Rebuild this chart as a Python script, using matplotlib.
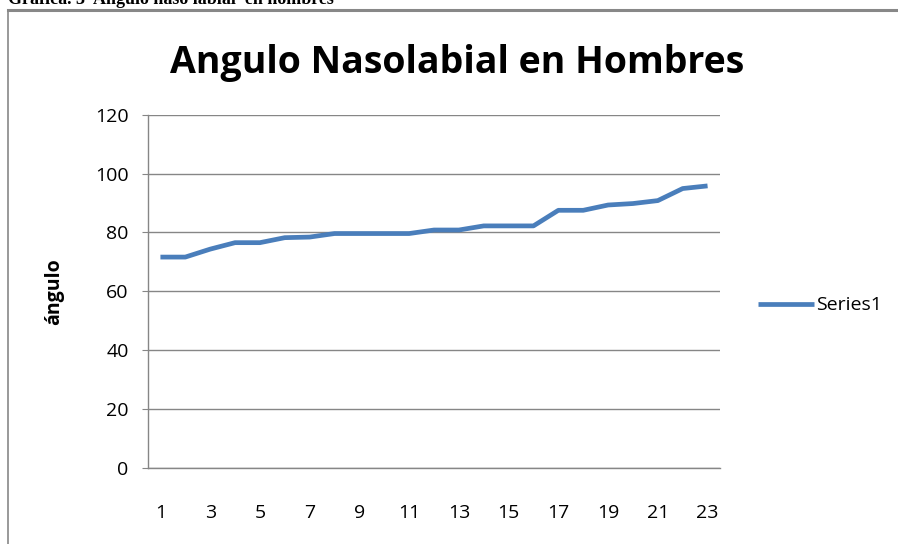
import matplotlib
matplotlib.use("Agg")
import matplotlib.pyplot as plt
from matplotlib.lines import Line2D

# Data
paciente = list(range(1, 24))
angulo = [71.6, 71.6, 74.3, 76.5, 76.5, 78.2, 78.4, 79.6, 79.6, 79.6, 79.6,
          80.8, 80.8, 82.2, 82.2, 82.2, 87.5, 87.5, 89.3, 89.8, 90.8, 94.9, 95.8]
y_ticks = [0, 20, 40, 60, 80, 100, 120]
x_ticks = [1, 3, 5, 7, 9, 11, 13, 15, 17, 19, 21, 23]

_W, _H, _DPI = 898, 544, 100
_LINE = '#4a7ebb'
_GRID = '#868686'
_FONT = ['Open Sans', 'DejaVu Sans']

fig = plt.figure(figsize=(_W / _DPI, _H / _DPI), dpi=_DPI, facecolor='white')

# Outer frame of the embedded chart (only top and left edges are visible)
fig.add_artist(Line2D([7.5 / _W, 7.5 / _W], [0, 1 - 10 / _H], color='#888888', lw=1.2))
fig.add_artist(Line2D([7.5 / _W, 1], [1 - 10 / _H, 1 - 10 / _H], color='#888888', lw=2.2))

# Caption from the document, cut off at the top edge as in the source page
fig.text(8 / _W, 1 - 4 / _H, 'Gráfica. 3  Angulo naso labial  en hombres',
         family='Liberation Serif', weight='bold', fontsize=13, va='baseline', ha='left')

ax = fig.add_axes([148 / _W, 1 - 467.7 / _H, 572 / _W, 353 / _H])
ax.plot(paciente, angulo, color=_LINE, lw=3.4, solid_joinstyle='round',
        solid_capstyle='butt', label='Series1')

ax.set_xlim(0.5, 23.5)
ax.set_ylim(0, 120)
ax.set_yticks(y_ticks)
ax.set_xticks(x_ticks)
ax.yaxis.grid(True, color=_GRID, lw=1)
ax.set_axisbelow(True)
for s in ['top', 'right']:
    ax.spines[s].set_visible(False)
for s in ['left', 'bottom']:
    ax.spines[s].set_color(_GRID)
    ax.spines[s].set_linewidth(1)
ax.tick_params(axis='y', length=4, color=_GRID, pad=10, labelsize=14)
ax.tick_params(axis='x', length=0, pad=26, labelsize=14)
for lab in ax.get_xticklabels() + ax.get_yticklabels():
    lab.set_family(_FONT)

ax.set_ylabel('ángulo', family=_FONT, weight='bold', fontsize=14, labelpad=22)

ax.set_title('Angulo Nasolabial en Hombres', family=_FONT, weight='bold',
             fontsize=27, x=0.54, pad=30)

leg = ax.legend(loc='center left', bbox_to_anchor=(1.035, 0.46), frameon=False,
                handlelength=2.9, handletextpad=0.1, prop={'family': _FONT, 'size': 14})

fig.savefig('out.png', dpi=_DPI, facecolor='white')
